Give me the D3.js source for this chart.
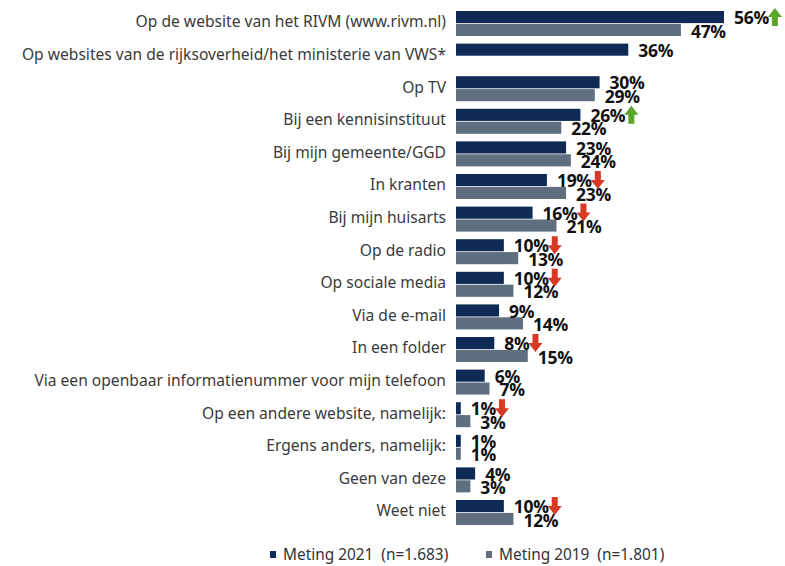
<!DOCTYPE html>
<html><head><meta charset="utf-8">
<script src="https://cdn.jsdelivr.net/npm/d3@7"></script>
<style>body{margin:0;background:#fff}svg{display:block}</style>
</head><body>
<svg id="chart" width="785" height="566"></svg>
<script>
const categories = [
  "Op de website van het RIVM (www.rivm.nl)",
  "Op websites van de rijksoverheid/het ministerie van VWS*",
  "Op TV",
  "Bij een kennisinstituut",
  "Bij mijn gemeente/GGD",
  "In kranten",
  "Bij mijn huisarts",
  "Op de radio",
  "Op sociale media",
  "Via de e-mail",
  "In een folder",
  "Via een openbaar informatienummer voor mijn telefoon",
  "Op een andere website, namelijk:",
  "Ergens anders, namelijk:",
  "Geen van deze",
  "Weet niet"
];
const values2021 = [56, 36, 30, 26, 23, 19, 16, 10, 10, 9, 8, 6, 1, 1, 4, 10];
const values2019 = [47, null, 29, 22, 24, 23, 21, 13, 12, 14, 15, 7, 3, 1, 3, 12];
// significance vs 2019: "up", "down" or null
const change = [ "up", null, null, "up", null, "down", "down", "down", "down", null, "down", null, "down", null, null, "down" ];
const seriesNames = ["Meting 2021\u00a0\u00a0(n=1.683)", "Meting 2019\u00a0\u00a0(n=1.801)"];
const colors = ["#0f2b55", "#5f6f80"];

const svg = d3.select("#chart");
const x = d3.scaleLinear().domain([0, 56]).range([456, 724]);
const y = d3.scaleBand().domain(categories).range([7.2, 528.8]).padding(0);
const sub = d3.scaleBand().domain(["2021", "2019"]).range([-12.5, 12.5]).paddingInner(0.06);

const rows = categories.map((c, i) => ({c, i, v21: values2021[i], v19: values2019[i], ch: change[i]}));
const catFont = "'Noto Sans', sans-serif";

// category labels
svg.append("g").selectAll("text").data(rows).join("text")
  .attr("x", 446)
  .attr("y", d => y(d.c) + y.bandwidth() / 2 - 1.5)
  .attr("dy", "0.35em")
  .attr("text-anchor", "end")
  .attr("font-family", catFont)
  .attr("font-size", 15.6)
  .attr("fill", "#3a3a3a")
  .text(d => d.c);

const cy = d => y(d.c) + y.bandwidth() / 2;

// bars 2021
svg.append("g").selectAll("rect").data(rows).join("rect")
  .attr("x", x(0))
  .attr("y", d => cy(d) + sub("2021"))
  .attr("width", d => x(d.v21) - x(0))
  .attr("height", sub.bandwidth())
  .attr("fill", colors[0]);

// bars 2019
const rows19 = rows.filter(d => d.v19 != null);
svg.append("g").selectAll("rect").data(rows19).join("rect")
  .attr("x", x(0))
  .attr("y", d => cy(d) + sub("2019"))
  .attr("width", d => x(d.v19) - x(0))
  .attr("height", sub.bandwidth())
  .attr("fill", colors[1]);

const labelFont = "'Open Sans', sans-serif";
// value labels 2019 (drawn first)
svg.append("g").selectAll("text").data(rows19).join("text")
  .attr("x", d => x(d.v19) + 10)
  .attr("y", d => cy(d) + sub("2019") + sub.bandwidth() / 2 + 1.5)
  .attr("dy", "0.35em")
  .attr("font-family", labelFont)
  .attr("font-weight", 700)
  .attr("font-size", 17.5)
  .attr("letter-spacing", -0.3)
  .attr("fill", "#111")
  .text(d => d.v19 + "%");

// value labels 2021
const lab21 = svg.append("g").selectAll("text").data(rows).join("text")
  .attr("x", d => x(d.v21) + 10)
  .attr("y", d => cy(d) + sub("2021") + sub.bandwidth() / 2 + 1)
  .attr("dy", "0.35em")
  .attr("font-family", labelFont)
  .attr("font-weight", 700)
  .attr("font-size", 17.5)
  .attr("letter-spacing", -0.3)
  .attr("fill", "#111")
  .text(d => d.v21 + "%");

// arrows
const arrowG = svg.append("g");
lab21.each(function(d) {
  if (!d.ch) return;
  const w = this.getComputedTextLength();
  const ax = x(d.v21) + 10 + w - 1;
  const top = cy(d) + sub("2021") - 3;
  const h = 18, wd = 14, sw = 6, headH = 9;
  let p;
  if (d.ch === "down") {
    p = [[ax + (wd - sw) / 2, top], [ax + (wd + sw) / 2, top], [ax + (wd + sw) / 2, top + h - headH],
         [ax + wd, top + h - headH], [ax + wd / 2, top + h], [ax, top + h - headH], [ax + (wd - sw) / 2, top + h - headH]];
  } else {
    p = [[ax + wd / 2, top], [ax + wd, top + headH], [ax + (wd + sw) / 2, top + headH], [ax + (wd + sw) / 2, top + h],
         [ax + (wd - sw) / 2, top + h], [ax + (wd - sw) / 2, top + headH], [ax, top + headH]];
  }
  arrowG.append("path")
    .attr("d", d3.line()(p) + "Z")
    .attr("fill", d.ch === "down" ? "#d63a24" : "#5aa52a");
});

// legend
const legend = svg.append("g");
const legX = [270, 486];
seriesNames.forEach((s, i) => {
  legend.append("rect").attr("x", legX[i]).attr("y", 551).attr("width", 6).attr("height", 7).attr("fill", colors[i]);
  legend.append("text").attr("x", legX[i] + 13).attr("y", 555).attr("dy", "0.35em")
    .attr("font-family", catFont).attr("font-size", 15.4).attr("fill", "#333")
    .text(s);
});
</script>
</body></html>
